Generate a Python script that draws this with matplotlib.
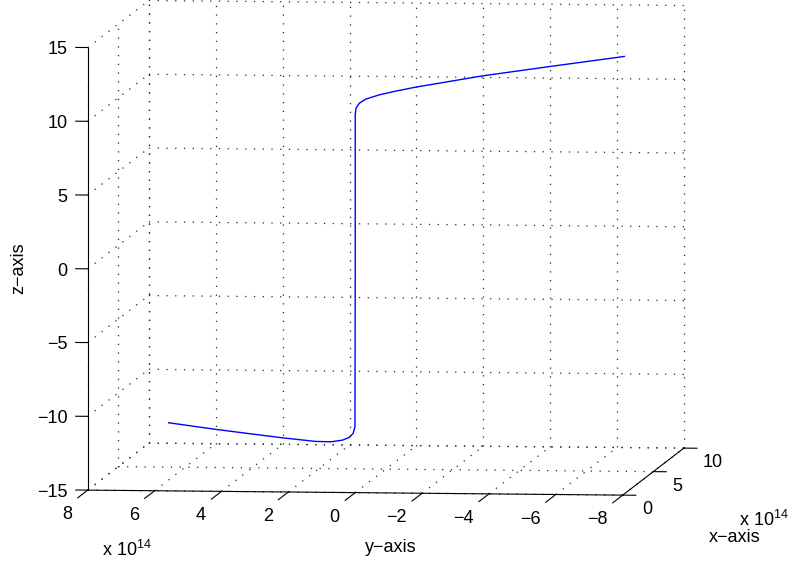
import matplotlib
matplotlib.use("Agg")
import matplotlib.pyplot as plt
import numpy as np

plt.rcParams["font.family"] = ["Liberation Sans", "DejaVu Sans"]
plt.rcParams["mathtext.fontset"] = "custom"
plt.rcParams["mathtext.rm"] = "Liberation Sans"

# curve (x and y in units of 1e14)
curve_x = [8.58, 6.40, 4.87, 3.34, 1.81, 1.12, 0.58, 0.28, 0.09, 0.01, 0.0, 0.0,
           0.02, 0.12, 0.32, 0.71, 1.15, 1.79, 3.75, 5.71, 7.92]
curve_y = [7.15, 5.33, 4.06, 2.78, 1.51, 0.93, 0.49, 0.23, 0.08, 0.01, 0.0, 0.0,
           -0.02, -0.10, -0.26, -0.59, -0.96, -1.49, -3.12, -4.76, -6.60]
curve_z = [-13.15, -12.87, -12.64, -12.41, -12.14, -11.93, -11.64, -11.35, -11.02,
           -10.54, 0.0, 10.6, 11.05, 11.36, 11.58, 11.75, 11.85, 11.95, 12.12,
           12.16, 12.18]

x_ticks = [0, 5, 10]
y_ticks = [-8, -6, -4, -2, 0, 2, 4, 6, 8]
z_ticks = [-15, -10, -5, 0, 5, 10, 15]
x_lim = (0, 10)
y_lim = (-8, 8)
z_lim = (-15, 15)

W, H = 791, 565
fig = plt.figure(figsize=(W / 100, H / 100), dpi=100)
fig.patch.set_facecolor("white")
ax = fig.add_axes([0, 0, 1, 1], projection="3d", proj_type="ortho",
                  computed_zorder=False)
ax.set_axis_off()
ax.view_init(elev=4.87, azim=-173.7)
ax.set_box_aspect((557, 538, 444))

x0, x1 = x_lim
y0, y1 = y_lim
z0, z1 = z_lim

grid = dict(color="0.15", lw=0.9, linestyle=(0, (1, 6)), zorder=1)
for yt in y_ticks:
    ax.plot([x1, x1], [yt, yt], [z0, z1], **grid)
    ax.plot([x0, x1], [yt, yt], [z0, z0], **grid)
for zt in z_ticks:
    ax.plot([x1, x1], [y0, y1], [zt, zt], **grid)
    ax.plot([x0, x1], [y1, y1], [zt, zt], **grid)
for xt in x_ticks:
    ax.plot([xt, xt], [y1, y1], [z0, z1], **grid)
    ax.plot([xt, xt], [y0, y1], [z0, z0], **grid)

# axis lines
axl = dict(color="black", lw=0.8, zorder=3)
ax.plot([x0, x0], [y1, y1], [z0, z1], **axl)
ax.plot([x0, x0], [y0, y1], [z0, z0], **axl)
ax.plot([x0, x1], [y0, y0], [z0, z0], **axl)

# tick marks
for zt in z_ticks:
    ax.plot([x0, x0], [y1, y1 + 0.36], [zt, zt], **axl)
for yt in y_ticks:
    ax.plot([x0, x0 - 1.64], [yt, yt], [z0, z0], **axl)
for xt in x_ticks:
    ax.plot([xt, xt], [y0, y0 - 0.39], [z0, z0], **axl)

ax.plot(curve_x, curve_y, curve_z, color="#0000ff", lw=1.0, zorder=4)

ax.set_xlim(*x_lim)
ax.set_ylim(*y_lim)
ax.set_zlim(*z_lim)


def to_px(x, y, z):
    v = ax.M @ np.array([x, y, z, 1.0])
    return ax.transData.transform((v[0] / v[3], v[1] / v[3]))


# place the box where it sits in the picture (pixel layout of the frame)
corners = [(x0, y1, z0), (x0, y0, z0), (x0, y1, z1), (x1, y0, z0), (x1, y1, z1)]
targets = np.array([(88, 75), (623, 70), (88, 517.3), (684, 117), (148, 564.3)])
for _ in range(3):
    fig.canvas.draw()
    pts = np.array([to_px(*c) for c in corners])
    bb = ax.get_position(original=False)
    S0 = bb.width * W
    c0 = np.array([(bb.x0 + bb.width / 2) * W, (bb.y0 + bb.height / 2) * H])
    f = (pts - c0) / S0
    fm, tm = f.mean(axis=0), targets.mean(axis=0)
    S1 = ((targets - tm) * (f - fm)).sum() / ((f - fm) ** 2).sum()
    c1 = tm - S1 * fm
    ax.set_position([(c1[0] - S1 / 2) / W, (c1[1] - S1 / 2) / H, S1 / W, S1 / H])
fig.canvas.draw()

fs = 13


def label_at(x, y, z, s, **kw):
    px, py = to_px(x, y, z)
    fig.text(px / W, py / H, s, fontsize=fs, **kw)


for zt in z_ticks:
    label_at(x0, y1 + 0.6, zt - 0.47, f"{zt}".replace("-", "\u2212"),
             ha="right", va="baseline")
for yt in y_ticks:
    label_at(x0 - 2.54, yt, z0 - 1.16, f"{yt}".replace("-", "\u2212"),
             ha="right", va="baseline")
for xt in x_ticks:
    label_at(xt, y0 - 0.57, z0 - 1.28, f"{xt}", ha="left", va="baseline")

fig.text(19 / W, 1 - 268 / H, "z\u2212axis", rotation=90, ha="center",
         va="center", fontsize=fs)
fig.text(391 / W, 1 - 547 / H, "y\u2212axis", ha="center", va="center",
         fontsize=fs)
fig.text(735 / W, 1 - 537 / H, "x\u2212axis", ha="center", va="center",
         fontsize=fs)
fig.text(102 / W, 1 - 556 / H, r"x 10$^{14}$", ha="left", va="baseline",
         fontsize=fs)
fig.text(739 / W, 1 - 526 / H, r"x 10$^{14}$", ha="left", va="baseline",
         fontsize=fs)

fig.savefig("out.png", dpi=100, facecolor="white")
